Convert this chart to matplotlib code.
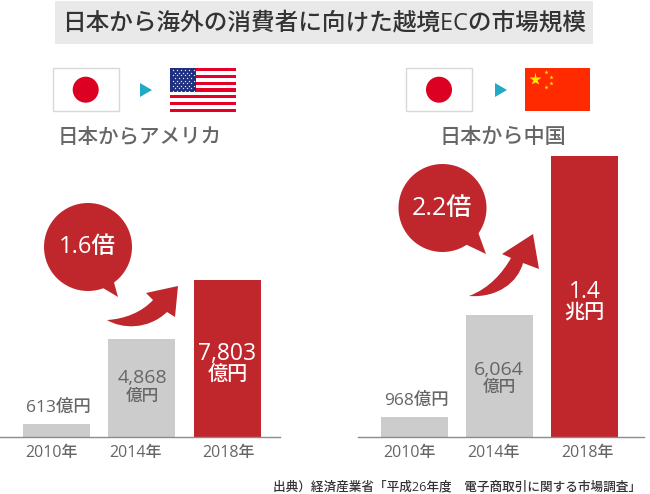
import matplotlib

matplotlib.use("Agg")
import matplotlib.pyplot as plt
from matplotlib.patches import Circle, PathPatch, Polygon, Rectangle
from matplotlib.path import Path

plt.rcParams["font.family"] = ["Open Sans", "Noto Sans CJK JP", "DejaVu Sans"]
plt.rcParams["font.weight"] = "medium"

W, H = 650, 494
RED = "#c0272d"
GRAY = "#cccccc"
TXT = "#666666"

years = ["2010年", "2014年", "2018年"]
us_values = [613, 4868, 7803]
cn_values = [968, 6064, 14000]
us_numbers = ["613", "4,868", "7,803"]
cn_numbers = ["968", "6,064", "1.4"]
us_units = ["億円", "億円", "億円"]
cn_units = ["億円", "億円", "兆円"]


def panel(fig, x0, x1, centers, label_x, values, numbers, units, inside_dy):
    # axes spans the baseline rule, data x is bar index
    ax = fig.add_axes([x0 / W, 1 - 436.5 / H, (x1 - x0) / W, 280.5 / H])
    step = (centers[2] - centers[0]) / 2
    ax.set_xlim((x0 - centers[0]) / step, (x1 - centers[0]) / step)
    ax.set_ylim(0, 14000)
    ax.patch.set_alpha(0)
    ax.bar(range(3), values, width=67 / step, color=[GRAY, GRAY, RED])
    for s in ("top", "left", "right"):
        ax.spines[s].set_visible(False)
    ax.spines["bottom"].set_color("#8c8c8c")
    ax.spines["bottom"].set_linewidth(1.0)
    ax.set_yticks([])
    ax.set_xticks([(x - centers[0]) / step for x in label_x])
    ax.set_xticklabels(years, fontsize=11.5, color=TXT)
    ax.tick_params(axis="x", length=0, pad=6)

    # small bar: label sits on top
    ax.annotate(numbers[0] + units[0], (0, values[0]), xytext=(2, 16), textcoords="offset pixels",
                ha="center", va="center", fontsize=12.5, color=TXT)
    # the other two sit inside
    for i, color, fs_n, fs_u in ((1, TXT, 14, 12), (2, "white", 16.5, 14.5)):
        dy_n, dy_u = inside_dy[i - 1]
        ax.annotate(numbers[i], (i, values[i]), xytext=(0, -dy_n), textcoords="offset pixels",
                    ha="center", va="center", fontsize=fs_n, color=color)
        ax.annotate(units[i], (i, values[i]), xytext=(0, -dy_u), textcoords="offset pixels",
                    ha="center", va="center", fontsize=fs_u, color=color)
    return ax


def japan_flag(ov, x):
    ov.add_patch(Rectangle((x, 68), 65.5, 43.5, fc="white", ec="#d8d8d8", lw=1))
    ov.add_patch(Circle((x + 32.7, 89.7), 13, fc="#dc0023", ec="none"))


def us_flag(ov, x, y, w, h):
    ov.add_patch(Rectangle((x, y), w, h, fc="white", ec="none"))
    sh = h / 13
    for i in range(0, 13, 2):
        ov.add_patch(Rectangle((x, y + i * sh), w, sh, fc="#e60027", ec="none"))
    ov.add_patch(Rectangle((x, y), 26, 7 * sh, fc="#1f2f7f", ec="none"))
    for r in range(9):
        for c in range(6 if r % 2 == 0 else 5):
            ov.plot(x + 2.5 + c * 4.2 + (0 if r % 2 == 0 else 2.1), y + 2.2 + r * 2.6,
                    "o", ms=1.0, mfc="#dfe3f2", mec="none")


def china_flag(ov, x, y, w, h):
    ov.add_patch(Rectangle((x, y), w, h, fc="#ff2a00", ec="none"))
    ov.plot(x + 10.8, y + 11, "*", ms=9.5, mfc="#ffe600", mec="none")
    for dx, dy in ((21.5, 4), (26, 9), (26, 15.5), (21.5, 19.5)):
        ov.plot(x + dx, y + dy, "*", ms=3.2, mfc="#ffe600", mec="none")


def bubble(ov, cx, cy, tail, text, fs):
    ov.add_patch(Circle((cx, cy), 44, fc=RED, ec="none"))
    ov.add_patch(Polygon(tail, fc=RED, ec="none"))
    ov.text(cx - 1, cy, text, ha="center", va="center", fontsize=fs, color="white")


def swoosh(ov, verts):
    codes = [Path.MOVETO, Path.CURVE4, Path.CURVE4, Path.CURVE4, Path.LINETO, Path.LINETO,
             Path.LINETO, Path.LINETO, Path.CURVE4, Path.CURVE4, Path.CURVE4, Path.CLOSEPOLY]
    ov.add_patch(PathPatch(Path(verts + [verts[0]], codes), fc=RED, ec="none"))


fig = plt.figure(figsize=(W / 100, H / 100), dpi=100)

panel(fig, 0, 280, [56.5, 141.5, 227.5], [52, 136, 229], us_values, us_numbers, us_units,
      [(39, 58), (74, 96)])
panel(fig, 358, 644, [414, 499.5, 584.5], [410, 493, 587], cn_values, cn_numbers, cn_units,
      [(55, 73), (136, 157)])

# everything decorative goes on a full page overlay in pixel coords
ov = fig.add_axes([0, 0, 1, 1], zorder=5)
ov.set_xlim(0, W)
ov.set_ylim(H, 0)
ov.axis("off")

ov.add_patch(Rectangle((55, 1), 538, 43, fc="#e9e9e9", ec="none"))
ov.text(324, 23, "日本から海外の消費者に向けた越境ECの市場規模", ha="center", va="center",
        fontsize=17, color="#333333")

japan_flag(ov, 53)
japan_flag(ov, 406.3)
ov.add_patch(Polygon([(140, 83), (152, 90), (140, 97)], fc="#22a9c6", ec="none"))
ov.add_patch(Polygon([(495, 83), (507, 90), (495, 97)], fc="#22a9c6", ec="none"))
us_flag(ov, 170, 68, 65.5, 44)
china_flag(ov, 524.5, 68, 65.5, 43)

ov.text(140, 137, "日本からアメリカ", ha="center", va="center", fontsize=14.8, color=TXT)
ov.text(502.5, 137, "日本から中国", ha="center", va="center", fontsize=15.2, color=TXT)

bubble(ov, 88, 247, [(98, 285), (113, 279), (118, 297)], "1.6倍", 17)
bubble(ov, 442.5, 208, [(465, 244), (478, 232), (486, 254)], "2.2倍", 18)

swoosh(ov, [(107, 320), (122, 329), (148, 330), (167, 312), (175, 317), (178, 286),
            (146, 293), (153, 300), (142, 312), (125, 319), (107, 320)])
swoosh(ov, [(469, 296), (498, 298), (518, 282), (523, 263), (539, 269), (533, 234),
            (502, 254), (511, 258), (503, 272), (490, 288), (469, 296)])

ov.text(273, 487, "出典）経済産業省「平成26年度　電子商取引に関する市場調査」", ha="left", va="center",
        fontsize=9.1, color="#333333")

fig.savefig("out.png", dpi=100)
